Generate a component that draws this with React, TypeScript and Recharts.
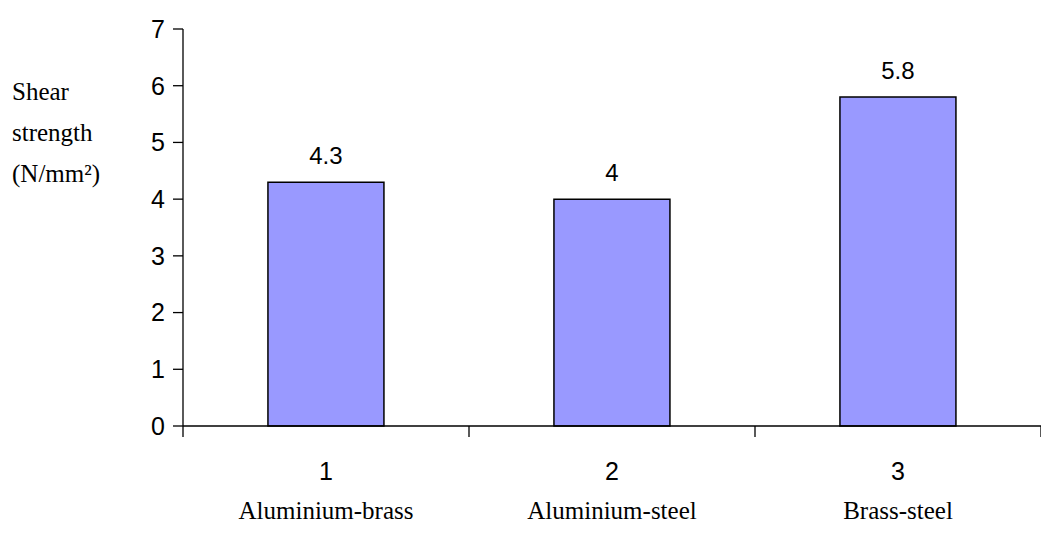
import { BarChart, Bar, XAxis, YAxis, LabelList } from 'recharts'

const categories = ['1', '2', '3']
const joints = ['Aluminium-brass', 'Aluminium-steel', 'Brass-steel']
const strength = [4.3, 4, 5.8]
const yTicks = [0, 1, 2, 3, 4, 5, 6, 7]
const yLabelLines = ['Shear', 'strength', '(N/mm²)']

const data = categories.map((c, i) => ({ cat: c, joint: joints[i], value: strength[i] }))

const W = 1041
const H = 536
const LEFT = 183
const RIGHT = 0
const BAND = (W - LEFT - RIGHT) / categories.length

const sans = '"Liberation Sans", Arial, sans-serif'
const serif = '"Liberation Serif", "Times New Roman", serif'
const tickStyle = { fontFamily: sans, fontSize: 25 }
const valueStyle = { fontFamily: sans, fontSize: 24 }
const serifStyle = { fontFamily: serif, fontSize: 25 }

// category tick: number + joint name, with tick marks on band edges
const XTick = (props: any) => {
  const { x, y, payload, index } = props
  const joint = joints[index] ?? ''
  const left = x - BAND / 2
  const right = x + BAND / 2
  return (
    <g>
      <line x1={left} y1={y} x2={left} y2={y + 11} stroke="#000" strokeWidth={1.3} />
      {index === categories.length - 1 && (
        <line x1={right} y1={y} x2={right} y2={y + 11} stroke="#000" strokeWidth={1.3} />
      )}
      <text x={x} y={y + 54} textAnchor="middle" style={tickStyle} fill="#000">
        {payload.value}
      </text>
      <text x={x} y={y + 93} textAnchor="middle" style={serifStyle} fill="#000">
        {joint}
      </text>
    </g>
  )
}

const YLabel = () => (
  <text style={serifStyle} fill="#000">
    {yLabelLines.map((line, i) => (
      <tspan key={i} x={12} y={100 + i * 41}>
        {line}
      </tspan>
    ))}
  </text>
)

export default function App() {
  return (
    <div style={{ position: 'absolute', left: 0, top: 0, background: '#fff' }}>
      <BarChart
        width={W}
        height={H}
        data={data}
        margin={{ top: 29, right: RIGHT, bottom: 0, left: 0 }}
        barCategoryGap="29.7%"
      >
        <XAxis
          dataKey="cat"
          tickLine={false}
          tickSize={0}
          tickMargin={0}
          axisLine={{ stroke: '#000', strokeWidth: 1.3 }}
          tick={<XTick />}
          interval={0}
          height={110}
        />
        <YAxis
          domain={[0, 7]}
          ticks={yTicks}
          width={LEFT}
          tickSize={10}
          tickMargin={8}
          axisLine={{ stroke: '#000', strokeWidth: 1.3 }}
          tickLine={{ stroke: '#000', strokeWidth: 1.3 }}
          tick={{ fill: '#000', style: tickStyle }}
          label={<YLabel />}
        />
        <Bar dataKey="value" fill="#9999ff" stroke="#000" strokeWidth={1.5} isAnimationActive={false}>
          <LabelList dataKey="value" position="top" offset={18} fill="#000" style={valueStyle} />
        </Bar>
      </BarChart>
    </div>
  )
}
